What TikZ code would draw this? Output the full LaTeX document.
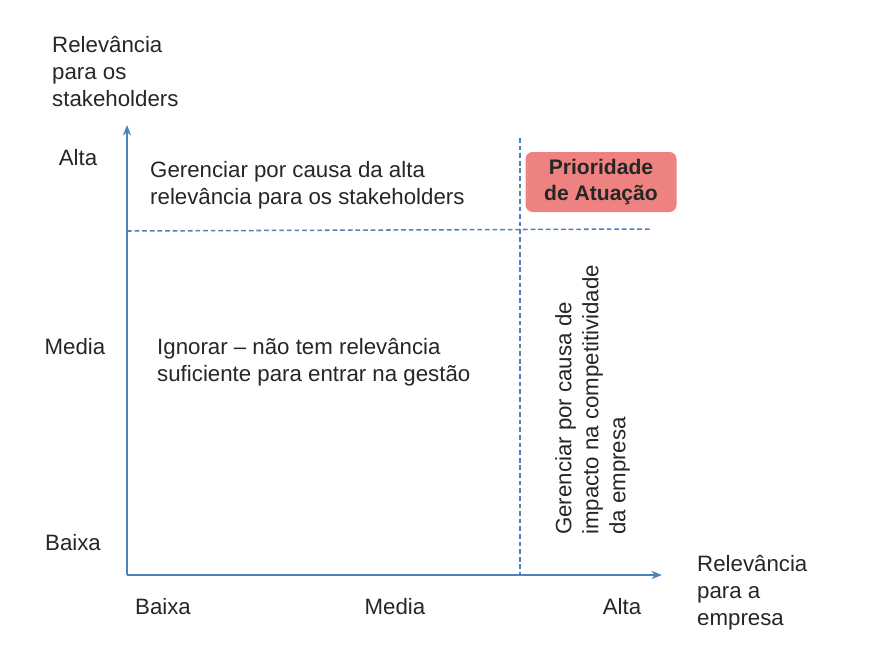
\documentclass[tikz,border=0pt]{standalone}
\usepackage{fontspec}
\setmainfont{Liberation Sans}
\usetikzlibrary{arrows.meta}
\begin{document}
\begin{tikzpicture}[x=0.03cm,y=-0.03cm,
  ax/.style={draw=axisblue,line width=2pt,-{Stealth[length=9pt,width=7pt]}},
  dsh/.style={draw=axisblue,line width=1.3pt,dash pattern=on 4pt off 2.5pt},
  lbl/.style={font=\fontsize{19}{23}\selectfont,inner sep=0pt,text=black!85},
  ]
\definecolor{axisblue}{RGB}{79,129,189}
\definecolor{prio}{RGB}{238,130,128}
\useasboundingbox (0,0) rectangle (885,666);
\coordinate (o) at (127,575);
\coordinate (ytop) at (127,125);
\coordinate (xend) at (662,575);
\draw[ax] (o) -- (ytop);
\draw[ax] (o) -- (xend);
\coordinate (h1) at (127,231); \coordinate (h2) at (652,229);
\coordinate (v1) at (520,138); \coordinate (v2) at (520,575);
\draw[dsh] (h1) -- (h2);
\draw[dsh] (v1) -- (v2);
\node[fill=prio,rounded corners=6pt,minimum width=151*0.03cm,minimum height=60*0.03cm,
  font=\fontsize{18}{22}\selectfont\bfseries,align=center,text=black!85] (prio) at (601,182) {Prioridade\\de Atuação};
\node[lbl,align=left,anchor=north west] (yl) at (52,36) {Relevância\\para os\\stakeholders};
\node[lbl] (ya) at (78,158) {Alta};
\node[lbl] (ym) at (75,347) {Media};
\node[lbl] (yb) at (73,543) {Baixa};
\node[lbl] (xb) at (163,607) {Baixa};
\node[lbl] (xm) at (395,607) {Media};
\node[lbl] (xa) at (622,607) {Alta};
\node[lbl,align=left,anchor=north west] (xl) at (697,555) {Relevância\\para a\\empresa};
\node[lbl,align=left,anchor=north west] (t1) at (150,161) {Gerenciar por causa da alta\\relevância para os stakeholders};
\node[lbl,align=left,anchor=north west] (t2) at (157,338) {Ignorar – não tem relevância\\suficiente para entrar na gestão};
\node[lbl,align=left,rotate=90,anchor=north west] (t3) at (555,535) {Gerenciar por causa de\\impacto na competitividade\\da empresa};
\end{tikzpicture}
\end{document}
